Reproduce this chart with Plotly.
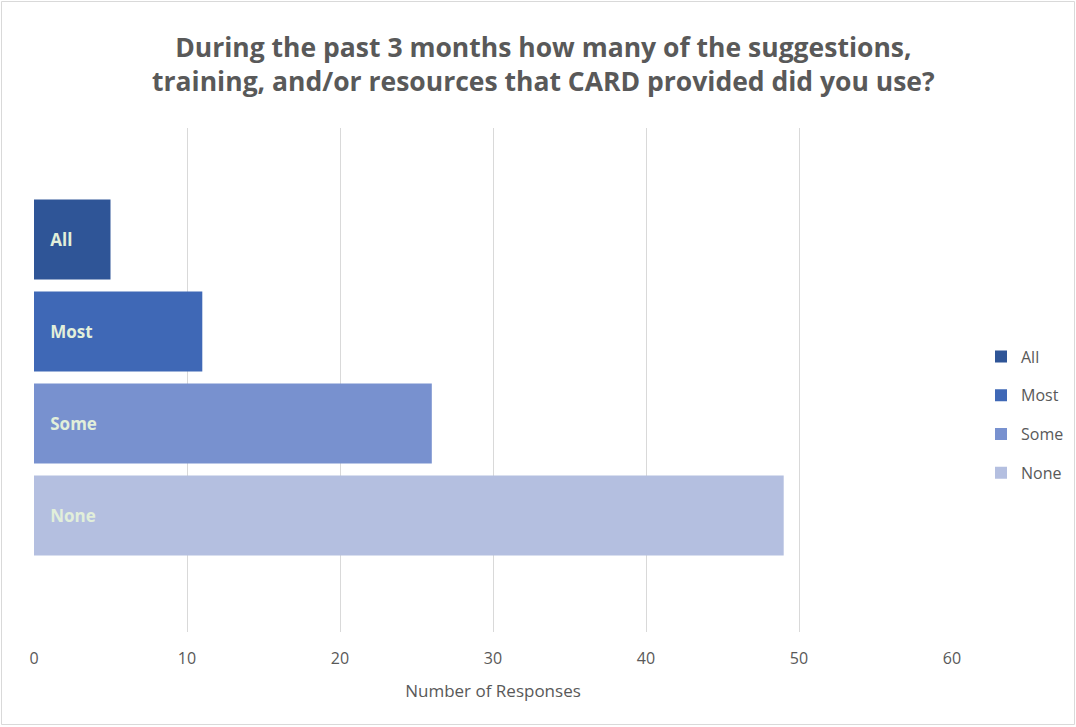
import plotly.graph_objects as go

series = ["All", "Most", "Some", "None"]
values = [5, 11, 26, 49]
colors = ["#2F5597", "#3F68B6", "#7891CF", "#B4BFE0"]
category = ["Q"]
x_ticks = [0, 10, 20, 30, 40, 50, 60]

W, H = 1076, 727
L, R, T, B = 34, 124, 128, 95
pw, ph = W - L - R, H - T - B

def px_x(p):
    return (p - L) / pw

def px_y(p):
    return (H - B - p) / ph

fig = go.Figure()
for i, (name, val, col) in enumerate(zip(series, values, colors)):
    fig.add_trace(go.Bar(
        y=category, x=[val], name=name, orientation="h",
        marker=dict(color=col, line=dict(width=0)),
        text=["\u00a0\u00a0\u00a0" + name], textposition="inside",
        insidetextanchor="start",
        textfont=dict(family="Open Sans", size=17, color="#E2EFDA", weight="bold"),
        legendgroup=name, hoverinfo="x+name",
    ))

fig.update_layout(
    width=W, height=H,
    margin=dict(l=L, r=R, t=T, b=B, autoexpand=False),
    paper_bgcolor="white", plot_bgcolor="white",
    barmode="group", bargap=0.27, bargroupgap=0.13,
    title=dict(
        text="During the past 3 months how many of the suggestions,<br>training, and/or resources that CARD provided did you use?",
        x=0.505, xref="container", xanchor="center", y=1 - 57 / H, yanchor="middle",
        font=dict(family="Open Sans", size=26.5, color="#595959", weight="bold"),
    ),
    xaxis=dict(
        range=[0, 60], tickvals=x_ticks, showgrid=True, gridcolor="#D9D9D9",
        gridwidth=1, zeroline=False, showline=False,
        ticks="outside", ticklen=12, tickcolor="rgba(0,0,0,0)",
        tickfont=dict(family="Open Sans", size=16, color="#595959"),
        title=dict(text="Number of Responses", standoff=16,
                   font=dict(family="Open Sans", size=17, color="#595959")),
        fixedrange=True,
    ),
    yaxis=dict(
        type="category", range=[0.505, -0.495], showticklabels=False,
        showgrid=False, zeroline=False, showline=False, ticks="",
    ),
    legend=dict(
        x=px_x(981), y=px_y(415), xanchor="left", yanchor="middle",
        font=dict(family="Open Sans", size=16, color="#595959"),
        tracegroupgap=15, traceorder="grouped", bgcolor="rgba(0,0,0,0)",
    ),
    uniformtext=dict(mode="show", minsize=8),
    shapes=[dict(
        type="rect", xref="paper", yref="paper",
        x0=px_x(1.5), x1=px_x(1074.5), y0=px_y(724.5), y1=px_y(1.5),
        line=dict(color="#D9D9D9", width=1), fillcolor="rgba(0,0,0,0)", layer="below",
    )],
)

fig.write_html("out.html")
